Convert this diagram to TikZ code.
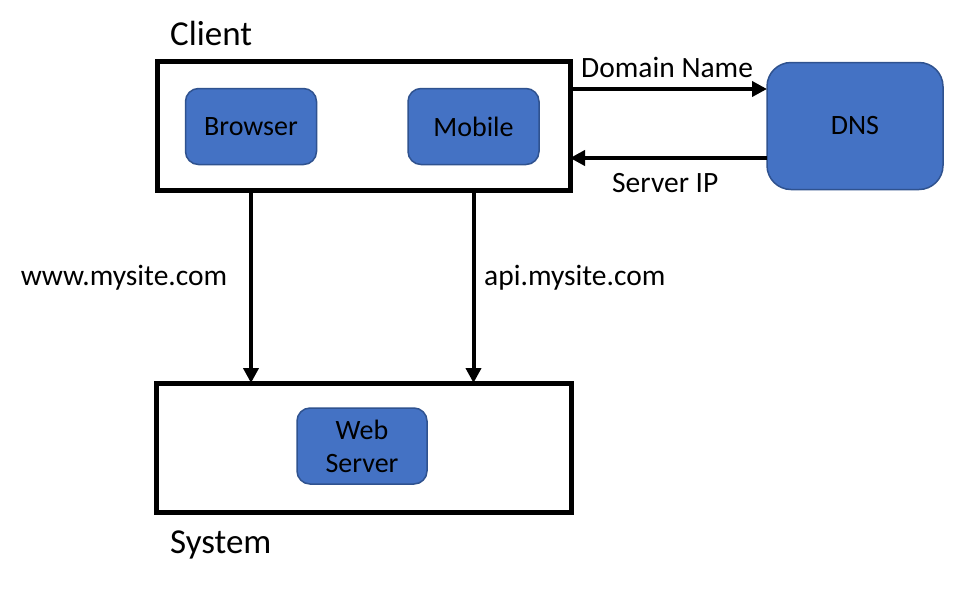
\documentclass[tikz,border=0pt]{standalone}
\usepackage{fontspec}
\setmainfont{Carlito}
\usetikzlibrary{arrows.meta}
\definecolor{boxblue}{HTML}{4472C4}
\definecolor{boxedge}{HTML}{2F528F}
\tikzset{
  frame/.style={draw=black, line width=5pt, fill=white, inner sep=0pt, outer sep=0pt},
  comp/.style={draw=boxedge, line width=1.5pt, fill=boxblue, rounded corners=13pt, inner sep=0pt, outer sep=0pt, font=\fontsize{28}{33}\selectfont, align=center},
  conn/.style={line width=4pt, -{Triangle[length=15pt,width=15pt]}},
  lbl/.style={font=\fontsize{29.5}{34}\selectfont, inner sep=0pt},
  title/.style={font=\fontsize{35}{40}\selectfont, inner sep=0pt, anchor=base west}
}
\begin{document}
\begin{tikzpicture}[x=1pt,y=-1pt]
\useasboundingbox (0,0) rectangle (966,590);
\node[frame, minimum width=413pt, minimum height=129pt] (client) at (363.5,125.5) {};
\node[frame, minimum width=415pt, minimum height=129pt] (system) at (363.5,447.5) {};
\node[comp, minimum width=131pt, minimum height=76pt] (browser) at (251,126.5) {Browser};
\node[comp, minimum width=131pt, minimum height=76pt] (mobile) at (473.5,126.5) {Mobile};
\node[comp, minimum width=130pt, minimum height=76pt] (web) at (362,446) {Web\\Server};
\node[comp, rounded corners=24pt, minimum width=176pt, minimum height=127pt] (dns) at (855,126) {DNS};
\node[title] (clientlbl) at (170,45) {Client};
\node[title] (systemlbl) at (170,553) {System};
\coordinate (q1) at (0,89);
\coordinate (q2) at (0,158);
\draw[conn] (client.east |- q1) -- (dns.west |- q1);
\draw[conn] (dns.west |- q2) -- (client.east |- q2);
\draw[conn] (browser |- client.south) -- (browser |- system.north);
\draw[conn] (mobile |- client.south) -- (mobile |- system.north);
\node[lbl, anchor=base west] (dn) at (581,77) {Domain Name};
\node[lbl, anchor=base west] (sip) at (612,192) {Server IP};
\node[lbl, anchor=base] (www) at (124,285) {www.mysite.com};
\node[lbl, anchor=base west] (api) at (484,285) {api.mysite.com};
\end{tikzpicture}
\end{document}
